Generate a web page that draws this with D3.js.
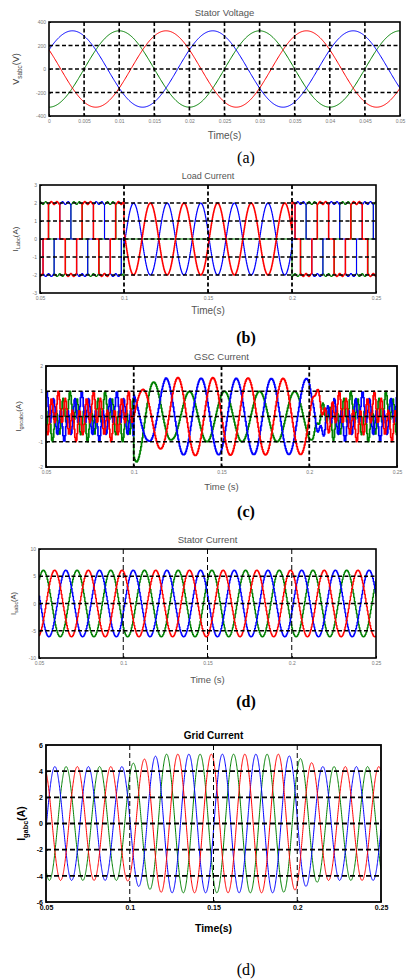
<!DOCTYPE html>
<html>
<head>
<meta charset="utf-8">
<style>
  body { margin: 0; background: #fff; }
  svg text { font-family: "Liberation Sans", Arial, sans-serif; }
  .cap { font-family: "Liberation Serif", "Times New Roman", serif !important; }
</style>
</head>
<body>
<svg id="fig" width="410" height="980"></svg>
<script src="https://d3js.org/d3.v7.min.js"></script>
<script>
var f = 50;                                   // mains frequency, Hz
var phaseColor = ['#0000ff', '#ff0000', '#008000'];   // blue, red, green
var drawOrder = [2, 0, 1];                    // green under, red on top

// (a) Stator Voltage
var voltXTicks = [0, 0.005, 0.01, 0.015, 0.02, 0.025, 0.03, 0.035, 0.04, 0.045, 0.05];
var voltYTicks = [-400, -200, 0, 200, 400];
var voltAmp = [325, 325, 325];
var voltPeak = [0.00333, 0.01667, 0.01];      // time of a positive peak per phase

// (b) Load Current
var timeTicks = [0.05, 0.1, 0.15, 0.2, 0.25];
var loadYTicks = [-3, -2, -1, 0, 1, 2, 3];
var loadLevel = 2;
var loadRipple = 0.08;
var loadSquareZero = [0.0600, 0.0533, 0.0467]; // 120 deg conduction, angle 0 per phase
var loadSineSpan = [0.1, 0.2];
var loadSineAmp = [2, 2, 0];
var loadSinePeak = [0.1056, 0.1156, 0.1056];

// (c) GSC Current
var gscYTicks = [-2, -1, 0, 1, 2];
var gscNoisePeak = [0.0502, 0.0569, 0.0635];
var gscNoiseAmp = [0.42, 0.58];               // fundamental, harmonic
var gscNoiseOrder = 5;
var gscPeak = [0.1182, 0.1249, 0.1115];
var gscEnvT = [[0.1, 0.108, 0.118, 0.2], [0.1, 0.104, 0.115, 0.125, 0.2], [0.1, 0.1015, 0.1115, 0.122, 0.132, 0.2]];
var gscEnvA = [[1.0, 0.95, 1.52, 1.5], [1.05, 1.05, 1.28, 1.55, 1.5], [1.8, 1.8, 1.36, 0.9, 1.0, 1.0]];
var gscFadeT = [0.2, 0.214];

// (d) Stator Current
var statYTicks = [-10, -5, 0, 5, 10];
var statAmp = [6.1, 6.1, 6.1];
var statPeak = [0.0657, 0.0591, 0.0524];

// (e) Grid Current
var gridYTicks = [-6, -4, -2, 0, 2, 4, 6];
var gridPeak = [0.0553, 0.0687, 0.0620];
var gridEnvT = [0.05, 0.098, 0.105, 0.12, 0.19, 0.2, 0.215, 0.25];
var gridEnvA = [4.35, 4.35, 4.8, 5.3, 5.3, 5.05, 4.35, 4.35];

var svg = d3.select('#fig');
var w = 2 * Math.PI * f;

function cosAt(t, peak) { return Math.cos(w * (t - peak)); }

function square120(t, zero) {
  var th = ((((t - zero) * f * 360) % 360) + 360) % 360;
  var rip = loadRipple * Math.cos(6 * w * (t - zero));
  if (th >= 30 && th < 150) return loadLevel + rip;
  if (th >= 210 && th < 330) return -loadLevel - rip;
  return 0;
}

function samples(t0, t1, dt) { return d3.range(t0, t1 + dt / 2, dt); }

// series builders
var voltSeries = [0, 1, 2].map(function(i) {
  return samples(0, 0.05, 0.0001).map(function(t) { return [t, voltAmp[i] * cosAt(t, voltPeak[i])]; });
});

var loadSeries = [0, 1, 2].map(function(i) {
  return samples(0.05, 0.25, 0.0002).map(function(t) {
    if (t >= loadSineSpan[0] && t < loadSineSpan[1]) return [t, loadSineAmp[i] * cosAt(t, loadSinePeak[i])];
    return [t, square120(t, loadSquareZero[i])];
  });
});

var gscSeries = [0, 1, 2].map(function(i) {
  var env = d3.scaleLinear().domain(gscEnvT[i]).range(gscEnvA[i]).clamp(true);
  var fade = d3.scaleLinear().domain(gscFadeT).range([1, 0]).clamp(true);
  function noise(t) {
    return gscNoiseAmp[0] * cosAt(t, gscNoisePeak[i]) +
           gscNoiseAmp[1] * Math.cos(gscNoiseOrder * w * (t - gscNoisePeak[i]));
  }
  function mid(t) { return env(t) * cosAt(t, gscPeak[i]); }
  return samples(0.05, 0.25, 0.0004).map(function(t) {
    if (t < 0.1) return [t, noise(t)];
    if (t < 0.2) return [t, mid(t)];
    var k = fade(t);
    return [t, k * mid(t) + (1 - k) * noise(t)];
  });
});

var statSeries = [0, 1, 2].map(function(i) {
  return samples(0.05, 0.25, 0.0004).map(function(t) { return [t, statAmp[i] * cosAt(t, statPeak[i])]; });
});

var gridEnv = d3.scaleLinear().domain(gridEnvT).range(gridEnvA).clamp(true);
var gridSeries = [0, 1, 2].map(function(i) {
  return samples(0.05, 0.25, 0.0001).map(function(t) { return [t, gridEnv(t) * cosAt(t, gridPeak[i])]; });
});

function fmt(v) { return String(+v.toFixed(4)); }

function drawPanel(p) {
  var x = d3.scaleLinear().domain(p.xDomain).range([p.left, p.right]);
  var y = d3.scaleLinear().domain(p.yDomain).range([p.bottom, p.top]);
  var g = svg.append('g');
  var clipId = 'clip-' + p.id;

  g.append('clipPath').attr('id', clipId)
    .append('rect')
    .attr('x', p.left).attr('y', p.top)
    .attr('width', p.right - p.left).attr('height', p.bottom - p.top);

  var line = d3.line()
    .x(function(d) { return x(d[0]); })
    .y(function(d) { return y(d[1]); })
    .curve(p.stepped ? d3.curveStepAfter : d3.curveLinear);

  var plot = g.append('g').attr('clip-path', 'url(#' + clipId + ')');
  drawOrder.forEach(function(i) {
    plot.append('path')
      .datum(p.series[i])
      .attr('d', line)
      .attr('fill', 'none')
      .attr('stroke', phaseColor[i])
      .attr('stroke-width', p.lineWidth[i])
      .attr('stroke-linejoin', 'round');
  });

  // grid on top, like the figure
  var inX = p.xTicks.filter(function(v) { return v > p.xDomain[0] && v < p.xDomain[1]; });
  var inY = p.yTicks.filter(function(v) { return v > p.yDomain[0] && v < p.yDomain[1]; });
  plot.selectAll('.hgrid').data(inY).enter().append('line')
    .attr('x1', p.left).attr('x2', p.right)
    .attr('y1', function(d) { return y(d); }).attr('y2', function(d) { return y(d); })
    .attr('stroke', '#000').attr('stroke-width', p.hGrid[0]).attr('stroke-dasharray', p.hGrid[1]);
  plot.selectAll('.vgrid').data(inX).enter().append('line')
    .attr('y1', p.top).attr('y2', p.bottom)
    .attr('x1', function(d) { return x(d); }).attr('x2', function(d) { return x(d); })
    .attr('stroke', '#000').attr('stroke-width', p.vGrid[0]).attr('stroke-dasharray', p.vGrid[1]);

  // axes
  var tickCol = p.bold ? '#000' : '#777';
  var xa = g.append('g').attr('transform', 'translate(0,' + p.bottom + ')')
    .call(d3.axisBottom(x).tickValues(p.xTicks).tickSize(-2).tickPadding(p.tickPad).tickFormat(fmt));
  var ya = g.append('g').attr('transform', 'translate(' + p.left + ',0)')
    .call(d3.axisLeft(y).tickValues(p.yTicks).tickSize(-2).tickPadding(p.tickPad).tickFormat(fmt));
  [xa, ya].forEach(function(a) {
    a.select('.domain').remove();
    a.selectAll('line').attr('stroke', '#000');
    a.selectAll('text')
      .attr('font-size', p.tickSize)
      .attr('font-weight', p.bold ? 'bold' : 'normal')
      .attr('fill', tickCol)
      .attr('font-family', '"Liberation Sans", Arial, sans-serif');
  });

  g.append('rect')
    .attr('x', p.left).attr('y', p.top)
    .attr('width', p.right - p.left).attr('height', p.bottom - p.top)
    .attr('fill', 'none').attr('stroke', '#000').attr('stroke-width', p.boxWidth);

  var cx = (p.left + p.right) / 2;
  var titleCol = p.bold ? '#000' : '#555';
  g.append('text').attr('x', cx).attr('y', p.top - 6)
    .attr('text-anchor', 'middle').attr('font-size', p.titleSize)
    .attr('font-weight', p.bold ? 'bold' : 'normal').attr('fill', titleCol)
    .text(p.title);
  g.append('text').attr('x', cx).attr('y', p.xLabelY)
    .attr('text-anchor', 'middle').attr('font-size', p.xLabelSize)
    .attr('font-weight', p.bold ? 'bold' : 'normal').attr('fill', titleCol)
    .text(p.xLabel);

  var yl = g.append('text')
    .attr('transform', 'translate(' + p.yLabelX + ',' + ((p.top + p.bottom) / 2) + ') rotate(-90)')
    .attr('text-anchor', 'middle')
    .attr('font-weight', p.bold ? 'bold' : 'normal')
    .attr('fill', p.bold ? '#000' : '#444');
  yl.append('tspan').attr('font-size', p.yLabelSize).text(p.yLabel[0]);
  yl.append('tspan').attr('font-size', p.yLabelSize * 0.7).attr('dy', p.yLabelSize * 0.3).text(p.yLabel[1]);
  yl.append('tspan').attr('font-size', p.yLabelSize).attr('dy', -p.yLabelSize * 0.3).text(p.yLabel[2]);

  svg.append('text').attr('class', 'cap')
    .attr('x', 246).attr('y', p.capY)
    .attr('text-anchor', 'middle').attr('font-size', 16)
    .attr('font-weight', p.capBold ? 'bold' : 'normal')
    .text(p.caption);
}

drawPanel({
  id: 'a', left: 49, right: 400, top: 22, bottom: 116,
  xDomain: [0, 0.05], yDomain: [-400, 400], xTicks: voltXTicks, yTicks: voltYTicks,
  series: voltSeries, lineWidth: [1, 1, 1], stepped: false,
  hGrid: [1.6, '4,2.5'], vGrid: [1.6, '4,2.5'], boxWidth: 1.6,
  tickSize: 5, tickPad: 3, titleSize: 9.5, title: 'Stator Voltage',
  xLabel: 'Time(s)', xLabelY: 139, xLabelSize: 10,
  yLabel: ['V', 'sabc', '(V)'], yLabelX: 19, yLabelSize: 9,
  caption: '(a)', capY: 163, capBold: false
});

drawPanel({
  id: 'b', left: 40, right: 376, top: 185, bottom: 293,
  xDomain: [0.05, 0.25], yDomain: [-3, 3], xTicks: timeTicks, yTicks: loadYTicks,
  series: loadSeries, lineWidth: [1.1, 1.5, 1.1], stepped: true,
  hGrid: [1.4, '4,2.5'], vGrid: [1.8, '4,2.5'], boxWidth: 1.6,
  tickSize: 5, tickPad: 3, titleSize: 9, title: 'Load Current',
  xLabel: 'Time(s)', xLabelY: 314, xLabelSize: 10,
  yLabel: ['I', 'Labc', '(A)'], yLabelX: 18, yLabelSize: 8,
  caption: '(b)', capY: 343, capBold: true
});

drawPanel({
  id: 'c', left: 46, right: 397, top: 366, bottom: 467,
  xDomain: [0.05, 0.25], yDomain: [-2, 2], xTicks: timeTicks, yTicks: gscYTicks,
  series: gscSeries, lineWidth: [1.7, 1.7, 1.7], stepped: true,
  hGrid: [1.6, '4,2.5'], vGrid: [1.8, '4,2.5'], boxWidth: 1.8,
  tickSize: 5, tickPad: 3, titleSize: 9.5, title: 'GSC  Current',
  xLabel: 'Time (s)', xLabelY: 490, xLabelSize: 9.5,
  yLabel: ['I', 'gscabc', '(A)'], yLabelX: 21, yLabelSize: 8,
  caption: '(c)', capY: 517, capBold: true
});

drawPanel({
  id: 'd', left: 39, right: 376, top: 549, bottom: 658,
  xDomain: [0.05, 0.25], yDomain: [-10, 10], xTicks: timeTicks, yTicks: statYTicks,
  series: statSeries, lineWidth: [1.4, 1.4, 1.4], stepped: true,
  hGrid: [1.6, '4,2.5'], vGrid: [1, '5,3'], boxWidth: 1.6,
  tickSize: 5, tickPad: 3, titleSize: 9.5, title: 'Stator Current',
  xLabel: 'Time (s)', xLabelY: 683, xLabelSize: 9.5,
  yLabel: ['I', 'sabc', '(A)'], yLabelX: 16, yLabelSize: 7.5,
  caption: '(d)', capY: 707, capBold: true
});

drawPanel({
  id: 'e', left: 46, right: 381, top: 745, bottom: 902,
  xDomain: [0.05, 0.25], yDomain: [-6, 6], xTicks: timeTicks, yTicks: gridYTicks,
  series: gridSeries, lineWidth: [1, 1, 1], stepped: false,
  hGrid: [1.8, '5,3'], vGrid: [1, '5,3'], boxWidth: 1.8,
  tickSize: 7, tickPad: 3, titleSize: 10, title: 'Grid Current', bold: true,
  xLabel: 'Time(s)', xLabelY: 932, xLabelSize: 10.5,
  yLabel: ['I', 'gabc', '(A)'], yLabelX: 25, yLabelSize: 10.5,
  caption: '(d)', capY: 975, capBold: false
});
</script>
</body>
</html>
